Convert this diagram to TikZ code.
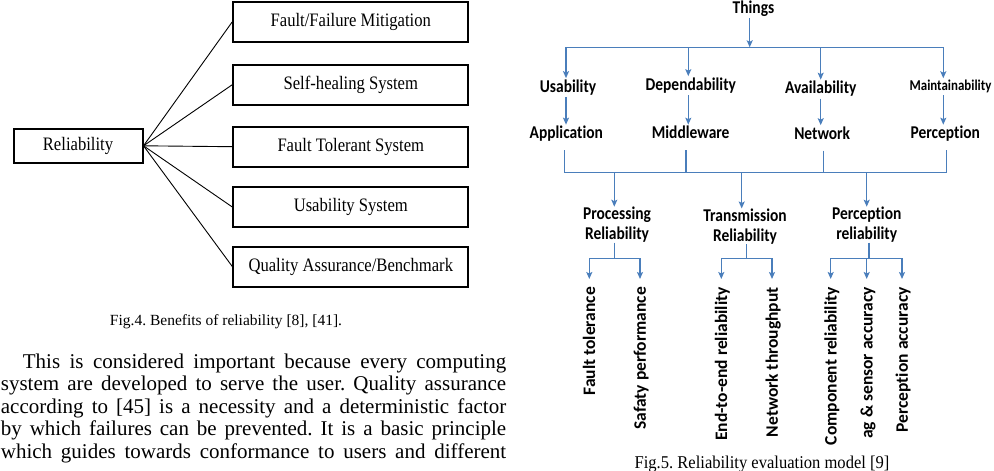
\documentclass[tikz,border=0pt]{standalone}
\usepackage{fontspec}
\setmainfont{Liberation Serif}
\newfontfamily\boxfont{Liberation Serif}[FakeStretch=0.875]
\newfontfamily\capfont{Liberation Serif}[FakeStretch=0.92]
\newfontfamily\labfont{Carlito}[FakeStretch=0.86, Ligatures=NoCommon]
\newfontfamily\rotfont{Carlito}[Ligatures=NoCommon]
\usetikzlibrary{arrows.meta}
\definecolor{lineblue}{RGB}{74,126,187}
\frenchspacing
\begin{document}
\begin{tikzpicture}[x=1pt,y=-1pt,
  benefit/.style={draw=black, line width=2pt, minimum width=235pt, minimum height=40pt, inner sep=0pt, font=\boxfont\fontsize{19}{22}\selectfont},
  relbox/.style={benefit, minimum width=129pt, minimum height=34.5pt},
  spoke/.style={draw=black, line width=0.9pt},
  para/.style={anchor=base west, inner sep=0pt, font=\fontsize{21}{23}\selectfont},
  figcap/.style={anchor=base, inner sep=0pt},
  bus/.style={draw=lineblue, line width=1.3pt},
  arr/.style={bus, -{Stealth[length=7pt,width=6pt,inset=1.5pt]}},
  lab/.style={anchor=base, inner sep=1pt, text depth=4pt, font=\labfont\bfseries\fontsize{18}{20}\selectfont},
  lab3/.style={anchor=north, inner sep=0pt, align=center, font=\labfont\bfseries\fontsize{18}{20}\selectfont},
  rot/.style={rotate=90, anchor=base east, inner xsep=8pt, inner ysep=0pt, font=\rotfont\bfseries\fontsize{17.5}{20}\selectfont}
]
\useasboundingbox (0,0) rectangle (994,471);

% ---------- Fig. 4 ----------
\node[relbox] (rel) at (78,145.8) {Reliability};
\node[benefit] (b1) at (350.8,21.8) {Fault/Failure Mitigation};
\node[benefit] (b2) at (350.8,84.7) {Self-healing System};
\node[benefit] (b3) at (350.8,146.7) {Fault Tolerant System};
\node[benefit] (b4) at (350.8,207) {Usability System};
\node[benefit] (b5) at (350.8,266.5) {Quality Assurance/Benchmark};
\foreach \b in {b1,b2,b3,b4,b5} \draw[spoke] (rel.east) -- (\b.west);

\node[figcap, font=\fontsize{15.5}{18}\selectfont] (cap4) at (226,325) {Fig.4. Benefits of reliability [8], [41].};

% ---------- paragraph ----------
\node[para] (p1) at (22.7,368.3) {\makebox[483.3pt][s]{This is considered important because every computing}};
\node[para] (p2) at (0.7,390.8) {\makebox[505.3pt][s]{system are developed to serve the user. Quality assurance}};
\node[para] (p3) at (0.7,413.3) {\makebox[505.3pt][s]{according to [45] is a necessity and a deterministic factor}};
\node[para] (p4) at (0.7,435.8) {\makebox[505.3pt][s]{by which failures can be prevented. It is a basic principle}};
\node[para] (p5) at (0.7,458.3) {\makebox[505.3pt][s]{which guides towards conformance to users and different}};

% ---------- Fig. 5 ----------
\node[lab] (things) at (753.5,13) {Things};
\node[lab] (u) at (568,92) {Usability};
\node[lab] (d) at (690.8,90) {Dependability};
\node[lab] (av) at (820.7,93.5) {Availability};
\node[lab, font=\labfont\bfseries\fontsize{15}{18}\selectfont] (m) at (950.5,90) {Maintainability};
\node[lab] (app) at (566.3,138.5) {Application};
\node[lab] (mid) at (690.7,138.5) {Middleware};
\node[lab] (net) at (822.2,139) {Network};
\node[lab] (per) at (945.3,138.5) {Perception};

\coordinate (tj) at (749.7,47.3);
\coordinate (t1) at (566,47.3);
\coordinate (t2) at (688.3,47.3);
\coordinate (t3) at (820.7,47.3);
\coordinate (t4) at (943.3,47.3);
\draw[bus] (t1) -- (t4);
\draw[arr] (tj |- things.south) -- (tj);
\draw[arr] (t1) -- (t1 |- u.north);
\draw[arr] (t2) -- (t2 |- d.north);
\draw[arr] (t3) -- (t3 |- av.north);
\draw[arr] (t4) -- (t4 |- m.north);
\draw[arr] (t1 |- u.south) -- (t1 |- app.north);
\draw[arr] (t2 |- d.south) -- (t2 |- mid.north);
\draw[arr] (t3 |- av.south) -- (t3 |- net.north);
\draw[arr] (t4 |- m.south) -- (t4 |- per.north);

\coordinate (c1) at (564.3,172.3);
\coordinate (c2) at (686,172.3);
\coordinate (c3) at (823.3,172.3);
\coordinate (c4) at (946.7,172.3);
\draw[bus] (c1) -- (c4);
\draw[bus, shorten <=6.5pt] (c1 |- app.south) -- (c1);
\draw[bus, shorten <=6.5pt] (c2 |- mid.south) -- (c2);
\draw[bus, shorten <=6.5pt] (c3 |- net.south) -- (c3);
\draw[bus, shorten <=6.5pt] (c4 |- per.south) -- (c4);

\node[lab3] (pr) at (617,206.7) {Processing\\Reliability};
\node[lab3] (tr) at (745,208.5) {Transmission\\Reliability};
\node[lab3] (pc) at (866.7,206.7) {Perception\\reliability};
\coordinate (d1) at (614.3,172.3);
\coordinate (d2) at (741.7,172.3);
\coordinate (d3) at (866.7,172.3);
\draw[arr] (d1) -- (d1 |- pr.north);
\draw[arr] (d2) -- (d2 |- tr.north);
\draw[arr] (d3) -- (d3 |- pc.north);

\coordinate (e1) at (614.3,258.3);
\coordinate (e2) at (746.7,258.3);
\coordinate (e3) at (869,258.3);
\draw[bus] (e1 |- pr.south) -- (e1);
\draw[bus] (e2 |- tr.south) -- (e2);
\draw[bus] (e3 |- pc.south) -- (e3);

\coordinate (f1) at (589.3,258.3);
\coordinate (f2) at (640,258.3);
\coordinate (f3) at (721.3,258.3);
\coordinate (f4) at (772,258.3);
\coordinate (f5) at (830.7,258.3);
\coordinate (f6) at (866.7,258.3);
\coordinate (f7) at (902,258.3);
\draw[bus] (f1) -- (f2);
\draw[bus] (f3) -- (f4);
\draw[bus] (f5) -- (f7);

\node[rot] (r1) at (595.1,279) {Fault tolerance};
\node[rot] (r2) at (645.8,279) {Safaty performance};
\node[rot] (r3) at (727.1,279) {End-to-end reliability};
\node[rot] (r4) at (777.8,279) {Network throughput};
\node[rot] (r5) at (836.5,279) {Component reliability};
\node[rot] (r6) at (872.5,279) {ag \& sensor accuracy};
\node[rot] (r7) at (907.8,279) {Perception accuracy};
\draw[arr] (f1) -- (f1 |- r1.east);
\draw[arr] (f2) -- (f2 |- r2.east);
\draw[arr] (f3) -- (f3 |- r3.east);
\draw[arr] (f4) -- (f4 |- r4.east);
\draw[arr] (f5) -- (f5 |- r5.east);
\draw[arr] (f6) -- (f6 |- r6.east);
\draw[arr] (f7) -- (f7 |- r7.east);

\node[figcap, font=\capfont\fontsize{18}{20}\selectfont] (cap5) at (762,468.3) {Fig.5. Reliability evaluation model [9]};
\end{tikzpicture}
\end{document}
